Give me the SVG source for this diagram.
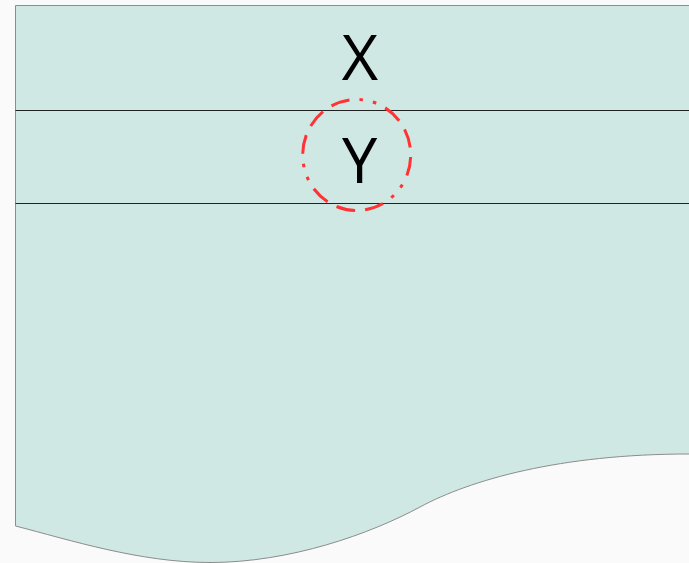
<svg xmlns="http://www.w3.org/2000/svg" width="689" height="563" viewBox="0 0 689 563">
  <style>
    .lbl { font-family: "Open Sans", "Liberation Sans", sans-serif; font-size: 63px; fill: #000; text-anchor: middle; }
    .rule { stroke: #222; stroke-width: 1; fill: none; }
  </style>
  <rect x="0" y="0" width="689" height="563" fill="#fafafa"/>
  <g id="document">
    <path d="M15.5,526 V5.5 H700 V454 H689 C560,454 470,480 420,507 C370,534 290,562.5 210,562.5 C140,562.5 70,540 15.5,526 Z" fill="#cfe8e4" stroke="#8c8c8c" stroke-width="1"/>
  </g>
  <g id="rows">
    <line class="rule" x1="15.5" y1="110.5" x2="689" y2="110.5"/>
    <line class="rule" x1="15.5" y1="203.5" x2="689" y2="203.5"/>
  </g>
  <g id="nodeX">
    <text class="lbl" x="360" y="80">X</text>
  </g>
  <g id="nodeY">
    <text class="lbl" x="359.5" y="183">Y</text>
  </g>
  <g id="highlight">
    <ellipse cx="356.7" cy="155" rx="54" ry="55.5" fill="none" stroke="#ff3333" stroke-width="3" stroke-dasharray="19 10.13 3.5 10.13 3.5 10.13 19 10.13 19 10.13" stroke-dashoffset="-2"/>
  </g>
</svg>
